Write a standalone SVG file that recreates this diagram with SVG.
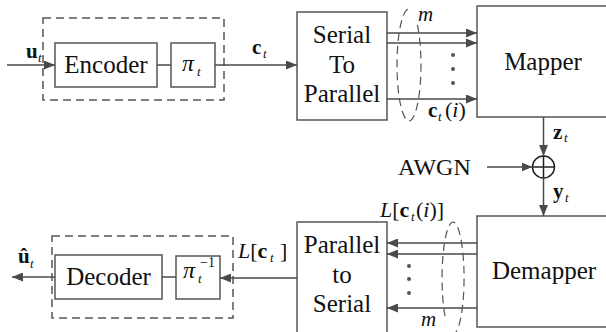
<svg xmlns="http://www.w3.org/2000/svg" width="606" height="332" viewBox="0 0 606 332" font-family="'Liberation Serif', 'DejaVu Serif', serif">
<style>
.box{fill:#fff;stroke:#555;stroke-width:1.5}
.dash{fill:none;stroke:#555;stroke-width:1.5;stroke-dasharray:8,5}
.ell{fill:none;stroke:#555;stroke-width:1.2;stroke-dasharray:8,5}
.ln{fill:none;stroke:#4a4a4a;stroke-width:1.5}
.arr{fill:none;stroke:#4a4a4a;stroke-width:1.5;marker-end:url(#ah)}
text{font-family:'Liberation Serif','DejaVu Serif',serif;fill:#111}
.t{font-size:25px;text-anchor:middle}
.m{font-size:21px}
.b{font-weight:bold}
.i{font-style:italic}
.s{font-size:13px;font-style:italic}
.dot{fill:#555}
</style>
<defs>
<marker id="ah" markerUnits="userSpaceOnUse" markerWidth="11" markerHeight="9" refX="11" refY="4.5" orient="auto">
<path d="M0,0 L11,4.5 L0,9 z" fill="#4a4a4a"/>
</marker>
</defs>

<g id="encoder-group">
<rect class="dash" x="43" y="18" width="181" height="82"/>
</g>
<g id="encoder">
<rect class="box" x="55" y="43" width="102" height="44"/>
<text class="t" x="106" y="73">Encoder</text>
</g>
<g id="interleaver">
<rect class="box" x="171" y="43" width="44" height="44"/>
<text class="m i" x="182" y="71" font-size="24" style="font-size:24px">π</text><text class="m s" x="197" y="76">t</text>
</g>
<g id="s2p">
<rect class="box" x="297" y="12" width="90" height="108"/>
<text class="t" x="342" y="43">Serial</text>
<text class="t" x="342" y="73">To</text>
<text class="t" x="342" y="102">Parallel</text>
</g>
<g id="mapper">
<rect class="box" x="477" y="6" width="134" height="111"/>
<text class="t" x="543" y="70">Mapper</text>
</g>
<g id="adder">
<circle cx="543.5" cy="167" r="11" fill="#fff" stroke="#222" stroke-width="1.5"/>
<path d="M532.5,167 H554.5 M543.5,156 V178" stroke="#222" stroke-width="1.5"/>
</g>
<g id="awgn">
<text class="t" x="398" y="175" style="text-anchor:start;font-size:24px">AWGN</text>
</g>
<g id="demapper">
<rect class="box" x="477" y="216" width="134" height="111"/>
<text class="t" x="544" y="279">Demapper</text>
</g>
<g id="p2s">
<rect class="box" x="297" y="222" width="90" height="120"/>
<text class="t" x="342" y="253">Parallel</text>
<text class="t" x="342" y="283">to</text>
<text class="t" x="342" y="312">Serial</text>
</g>
<g id="decoder-group">
<rect class="dash" x="52" y="236" width="181" height="82"/>
</g>
<g id="decoder">
<rect class="box" x="55" y="255" width="107" height="44"/>
<text class="t" x="108.5" y="285">Decoder</text>
</g>
<g id="deinterleaver">
<rect class="box" x="176" y="256" width="44" height="43"/>
<text class="m i" x="183" y="278" style="font-size:24px">π</text><text class="m s" x="198" y="283">t</text><text x="200" y="267" style="font-size:14px">−1</text>
</g>

<g id="connectors">
<line class="arr" x1="7" y1="65" x2="55" y2="65"/>
<line class="ln" x1="157" y1="65" x2="171" y2="65"/>
<line class="arr" x1="215" y1="65" x2="297" y2="65"/>
<line class="arr" x1="387" y1="33" x2="477" y2="33"/>
<line class="arr" x1="387" y1="43" x2="477" y2="43"/>
<line class="arr" x1="387" y1="99" x2="477" y2="99"/>
<line class="arr" x1="543.5" y1="117" x2="543.5" y2="156"/>
<line class="arr" x1="487" y1="167" x2="532.5" y2="167"/>
<line class="arr" x1="543.5" y1="178" x2="543.5" y2="216"/>
<line class="arr" x1="477" y1="243" x2="387" y2="243"/>
<line class="arr" x1="477" y1="254" x2="387" y2="254"/>
<line class="arr" x1="477" y1="308" x2="387" y2="308"/>
<line class="arr" x1="297" y1="278" x2="220" y2="278"/>
<line class="ln" x1="162" y1="277" x2="176" y2="277"/>
<line class="arr" x1="55" y1="277" x2="12" y2="277"/>
<path class="ell" d="M417.4,25 A12,56 0 1 1 408.5,9"/>
<path class="ell" d="M451.1,333.2 A11,56 0 1 0 445.4,318.3"/>
<circle class="dot" cx="453" cy="55" r="2"/>
<circle class="dot" cx="453" cy="69" r="2"/>
<circle class="dot" cx="453" cy="83" r="2"/>
<circle class="dot" cx="409" cy="266" r="2"/>
<circle class="dot" cx="409" cy="279" r="2"/>
<circle class="dot" cx="409" cy="293" r="2"/>
</g>

<g id="labels">
<text class="m b" x="26" y="58">u</text><text class="m s" x="38" y="62">t</text>
<text class="m b" x="252" y="54">c</text><text class="m s" x="263" y="58">t</text>
<text class="m i" x="418" y="21">m</text>
<text class="m b" x="428" y="117">c</text><text class="m s" x="438" y="121">t</text><text class="m" x="445" y="117" style="font-size:22px">(<tspan class="i">i</tspan>)</text>
<text class="m b" x="553" y="139">z</text><text class="m s" x="564" y="142">t</text>
<text class="m b" x="553" y="198">y</text><text class="m s" x="565" y="202">t</text>
<text class="m" x="380" y="217" style="font-size:22px"><tspan class="i">L</tspan>[<tspan class="b">c</tspan></text><text class="m s" x="411" y="221">t</text><text class="m" x="416" y="217" style="font-size:22px">(<tspan class="i">i</tspan>)]</text>
<text class="m i" x="421" y="326">m</text>
<text class="m" x="238" y="258" style="font-size:22px"><tspan class="i">L</tspan>[<tspan class="b">c</tspan></text><text class="m s" x="270" y="262">t</text><text class="m" x="280" y="258" style="font-size:22px">]</text>
<text class="m b" x="18" y="263">û</text><text class="m s" x="30" y="268">t</text>
</g>
</svg>
